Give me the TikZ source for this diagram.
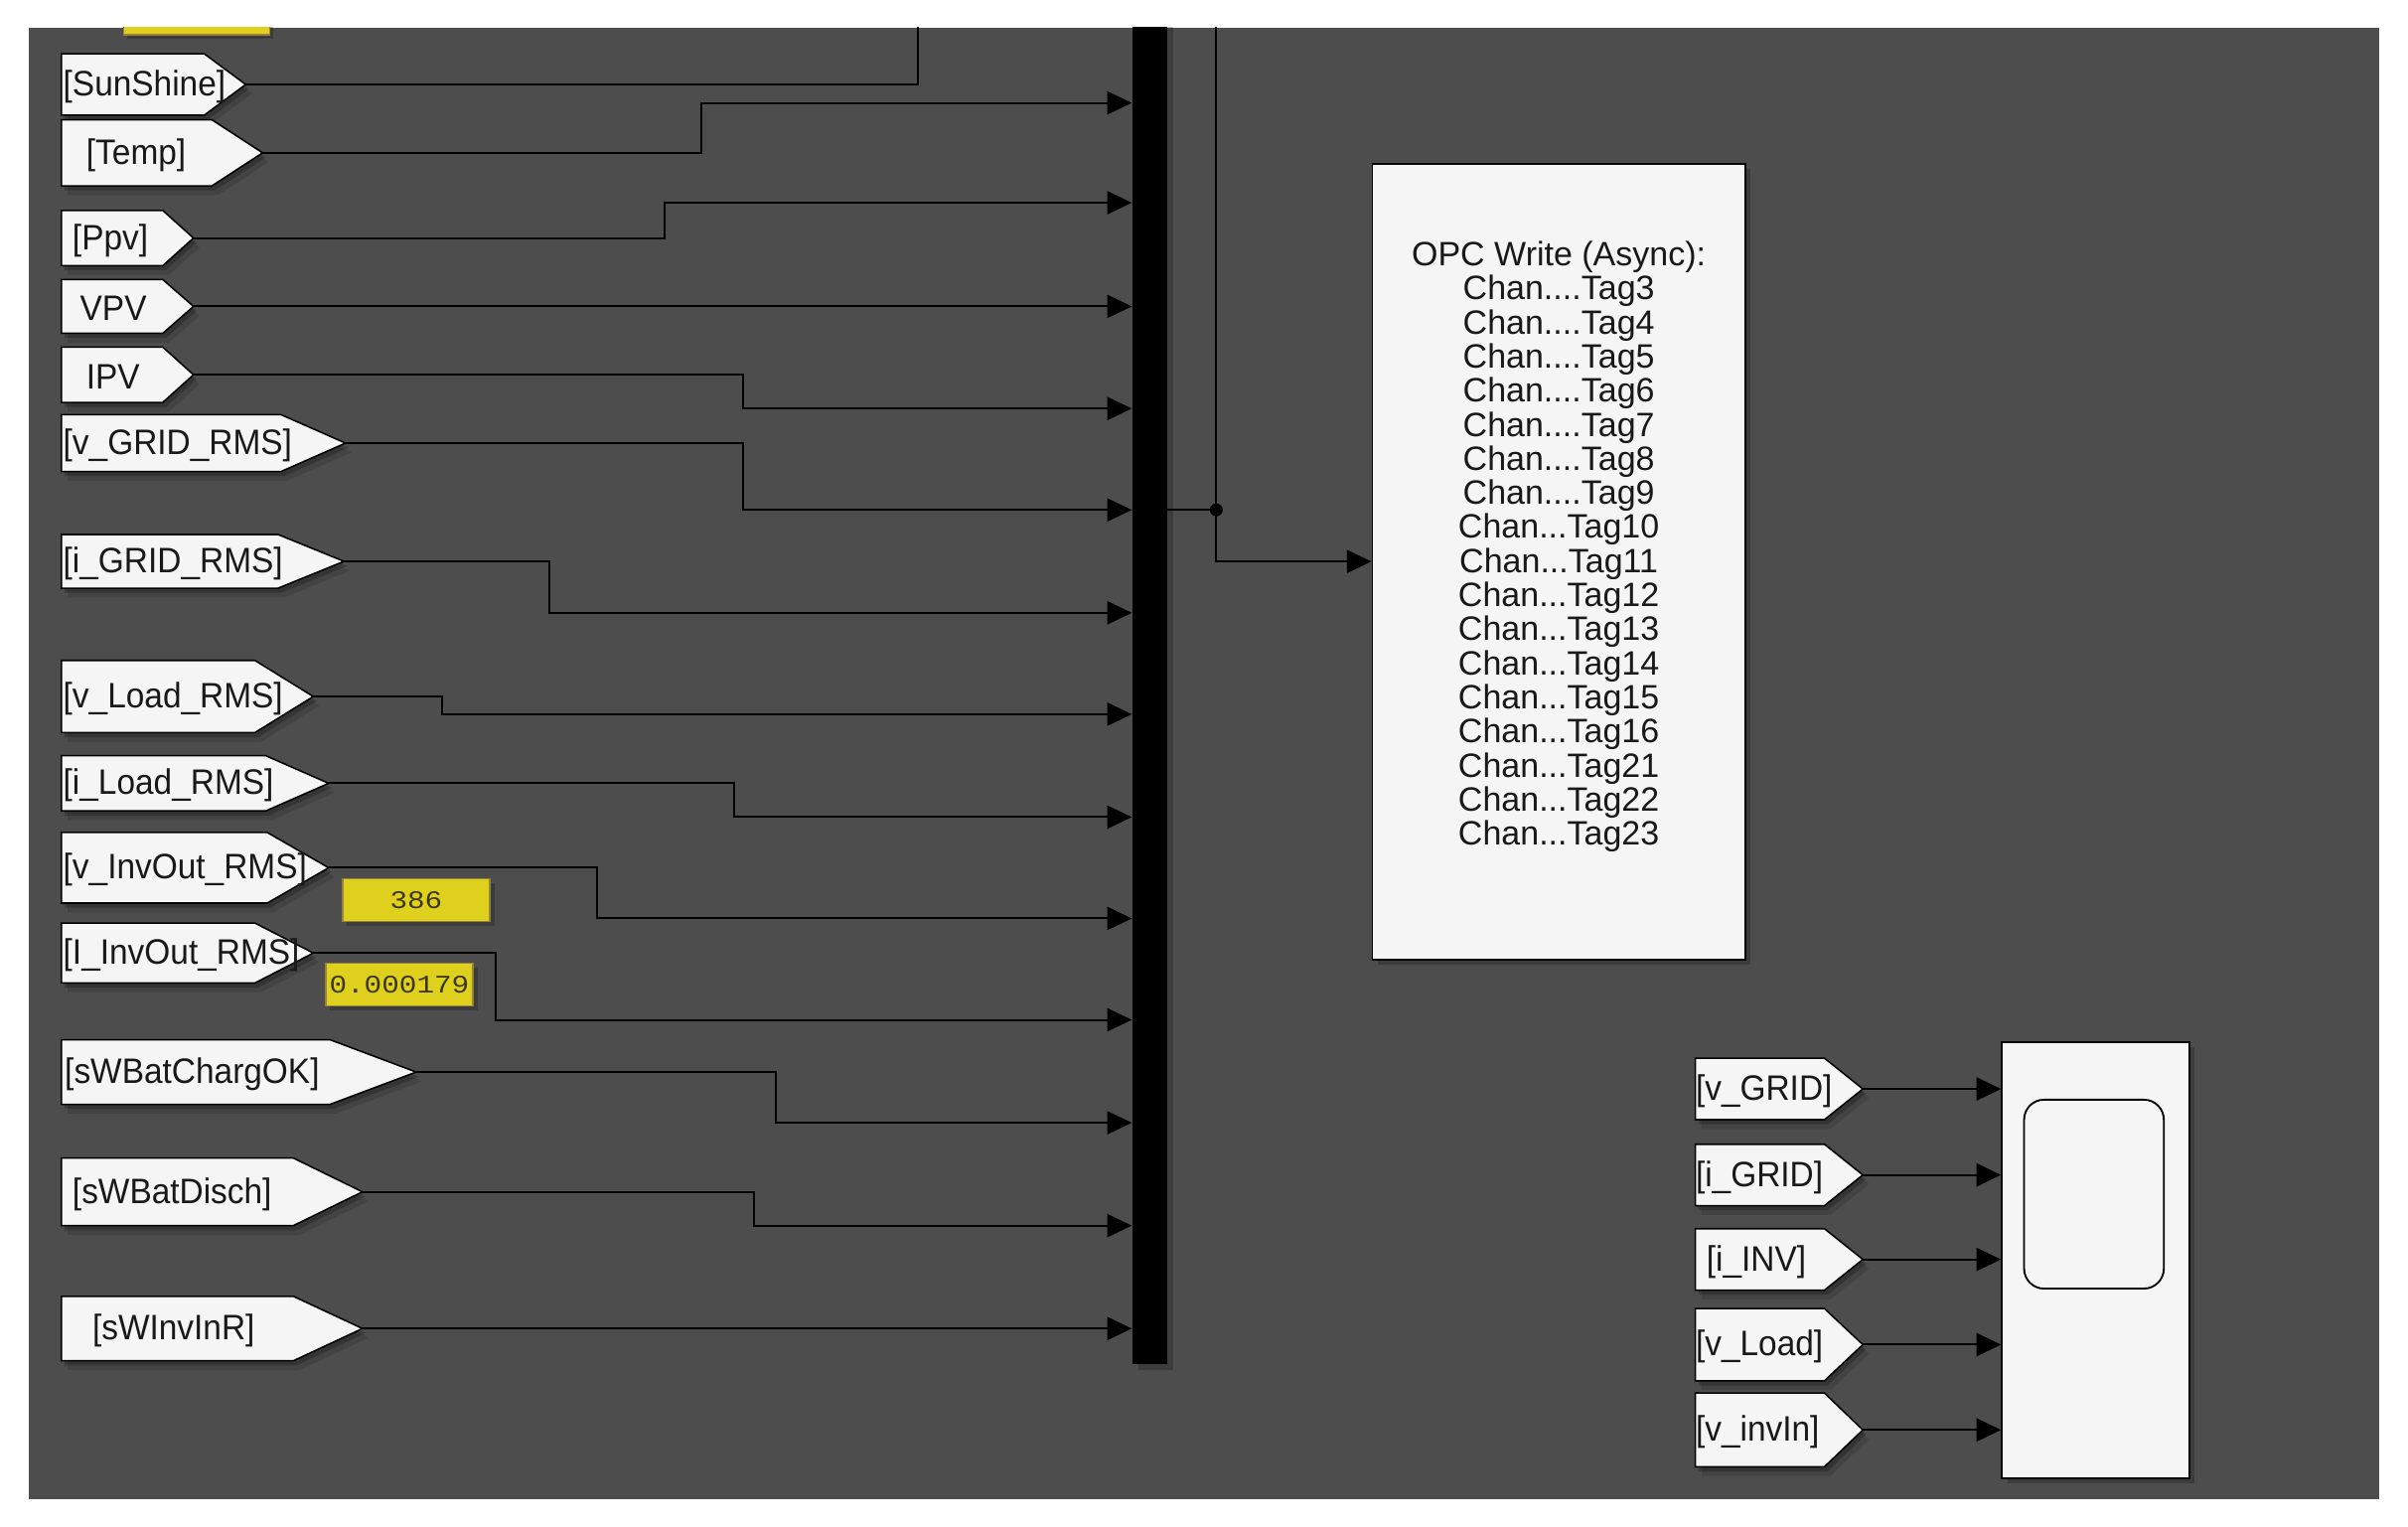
\documentclass[tikz,border=0pt]{standalone}
\usepackage{fontspec}
\setmainfont{Liberation Sans}
\newfontfamily\lblfamily[FakeStretch=0.94]{Liberation Sans}
\newfontfamily\dispfont[FakeStretch=1.15]{Liberation Mono}
\usetikzlibrary{arrows.meta,calc}
\definecolor{bgdark}{RGB}{77,77,77}
\definecolor{blockfill}{RGB}{245,245,245}
\definecolor{dispyel}{RGB}{224,208,30}
\definecolor{dispedge}{RGB}{150,132,60}
\definecolor{disptext}{RGB}{60,55,10}
\tikzset{
  sig/.style={line width=1.3pt, black, -{Triangle[length=16pt,width=15pt]}},
  wire/.style={line width=1.3pt, black},
  tagshape/.style={fill=blockfill, draw=black, line width=1pt},
  shadeA/.style={fill=black, opacity=0.22},
  shadeB/.style={fill=black, opacity=0.12},
  lbl/.style={font=\lblfamily\fontsize{23}{25}\selectfont, text=black!90, inner sep=0pt},
  blockbox/.style={fill=blockfill, draw=black, line width=1.2pt},
  dispbox/.style={fill=dispyel, draw=dispedge, line width=1pt},
  disptxt/.style={font=\dispfont\fontsize{16.5}{18}\selectfont, text=disptext, inner sep=0pt},
  opctext/.style={font=\fontsize{22}{22.2}\selectfont, text=black!90, align=center, inner sep=0pt},
}
% #1 name, #2 x0, #3 xflat, #4 xtip, #5 ytop, #6 ybot, #7 text x, #8 text
\newcommand{\tagblk}[8]{%
  \fill[shadeB] (#2+4,#5+6) -- (#3+4,#5+6) -- ({#4+4},{(#5+#6)/2+6}) -- (#3+4,#6+6) -- (#2+4,#6+6) -- cycle;
  \fill[shadeA] (#2+2,#5+3) -- (#3+2,#5+3) -- ({#4+2},{(#5+#6)/2+3}) -- (#3+2,#6+3) -- (#2+2,#6+3) -- cycle;
  \path[tagshape] (#2,#5) -- (#3,#5) -- (#4,{(#5+#6)/2}) -- (#3,#6) -- (#2,#6) -- cycle;
  \node[lbl,anchor=west] (#1-t) at (#7,{(#5+#6)/2+1.5}) {#8};
  \coordinate (#1) at (#4,{(#5+#6)/2});
}
\begin{document}
\begin{tikzpicture}[x=1pt,y=-1pt]
\useasboundingbox (0,0) rectangle (1568,994);
\fill[white] (0,0) rectangle (1568,994);
\fill[bgdark] (19,18) rectangle (1549,976);
\begin{scope}
\clip (19,18) rectangle (1549,976);

% partial display at the top
\fill[shadeA] (83,10) rectangle (178,25);
\node[dispbox, minimum width=95pt, minimum height=14pt, inner sep=0pt, anchor=north west] (topdisp) at (80,8) {};

% left tags
\tagblk{sun}{40}{133}{160}{35}{75}{41}{[SunShine]}
\tagblk{temp}{40}{138}{171}{78}{121}{56}{[Temp]}
\tagblk{ppv}{40}{106}{126}{137}{173}{47}{[Ppv]}
\tagblk{vpv}{40}{106}{126}{182}{217}{52}{VPV}
\tagblk{ipv}{40}{106}{126}{226}{262}{56}{IPV}
\tagblk{vgr}{40}{183}{225}{270}{307}{41}{[v\_GRID\_RMS]}
\tagblk{igr}{40}{181}{224}{348}{383}{41}{[i\_GRID\_RMS]}
\tagblk{vlr}{40}{166}{204}{430}{477}{41}{[v\_Load\_RMS]}
\tagblk{ilr}{40}{173}{214}{492}{528}{41}{[i\_Load\_RMS]}
\tagblk{vio}{40}{174}{214}{542}{588}{41}{[v\_InvOut\_RMS]}
\tagblk{iio}{40}{166}{204}{601}{640}{41}{[I\_InvOut\_RMS]}
\tagblk{bco}{40}{215}{271}{677}{719}{42}{[sWBatChargOK]}
\tagblk{bds}{40}{191}{236}{754}{798}{47}{[sWBatDisch]}
\tagblk{iir}{40}{191}{236}{844}{886}{60}{[sWInvInR]}

% displays
\fill[shadeA] (226,575) rectangle (322,603);
\node[dispbox, minimum width=96pt, minimum height=28pt, inner sep=0pt] (d386) at (271,586) {};
\node[disptxt] at (d386.center) {386};
\fill[shadeA] (215,630) rectangle (311,658);
\node[dispbox, minimum width=96pt, minimum height=28pt, inner sep=0pt] (d179) at (260,641) {};
\node[disptxt] at (d179.center) {0.000179};

% bus bar
\fill[shadeA] (741,10) rectangle (764,892);
\node[fill=black, minimum width=23pt, minimum height=878pt, inner sep=0pt, anchor=north west] (mux) at (737,10) {};

% bus inputs
\coordinate (in1) at (737,67);
\coordinate (in2) at (737,132);
\coordinate (in3) at (737,199.5);
\coordinate (in4) at (737,266);
\coordinate (in5) at (737,332);
\coordinate (in6) at (737,399);
\coordinate (in7) at (737,465);
\coordinate (in8) at (737,532);
\coordinate (in9) at (737,598);
\coordinate (in10) at (737,664);
\coordinate (in11) at (737,731);
\coordinate (in12) at (737,798);
\coordinate (in13) at (737,865);
\coordinate (suntop) at (598,5);

\draw[wire] (sun) -| (suntop);
\draw[sig] (temp) -| (457,67) -- (in1);
\draw[sig] (ppv) -| (433,132) -- (in2);
\draw[sig] (vpv) -- (in3);
\draw[sig] (ipv) -| (484,266) -- (in4);
\draw[sig] (vgr) -| (484,332) -- (in5);
\draw[sig] (igr) -| (358,399) -- (in6);
\draw[sig] (vlr) -| (288,465) -- (in7);
\draw[sig] (ilr) -| (478,532) -- (in8);
\draw[sig] (vio) -| (389,598) -- (in9);
\draw[sig] (iio) -| (323,664) -- (in10);
\draw[sig] (bco) -| (505,731) -- (in11);
\draw[sig] (bds) -| (491,798) -- (in12);
\draw[sig] (iir) -- (in13);

% OPC block
\fill[shadeA] (897,110) rectangle (1140,628);
\node[blockbox, minimum width=243pt, minimum height=518pt, inner sep=0pt, anchor=north west] (opc) at (893,106) {};
\node[opctext] (opct) at (1015,356) {OPC Write (Async):\\Chan....Tag3\\Chan....Tag4\\Chan....Tag5\\Chan....Tag6\\Chan....Tag7\\Chan....Tag8\\Chan....Tag9\\Chan...Tag10\\Chan...Tag11\\Chan...Tag12\\Chan...Tag13\\Chan...Tag14\\Chan...Tag15\\Chan...Tag16\\Chan...Tag21\\Chan...Tag22\\Chan...Tag23};

% bus output and branch
\coordinate (busout) at (760,332);
\coordinate (jn) at (792,332);
\coordinate (jtop) at (792,5);
\draw[wire] (busout) -- (jn);
\draw[wire] (jn) -- (jtop);
\fill (jn) circle (4.2pt);
\draw[sig] (jn) |- (opc.west);

% scope block
\fill[shadeA] (1307,682) rectangle (1429,966);
\node[blockbox, minimum width=122pt, minimum height=284pt, inner sep=0pt, anchor=north west] (scp) at (1303,678) {};
\draw[line width=1.2pt, rounded corners=13pt, fill=blockfill] (1318,716) rectangle (1409,839);

% right tags
\tagblk{vg}{1104}{1188}{1213}{689}{729}{1104}{[v\_GRID]}
\tagblk{ig}{1104}{1188}{1213}{745}{785}{1104}{[i\_GRID]}
\tagblk{ii}{1104}{1188}{1213}{800}{840}{1111}{[i\_INV]}
\tagblk{vl}{1104}{1188}{1213}{852}{899}{1104}{[v\_Load]}
\tagblk{vi}{1104}{1188}{1213}{907}{955}{1104}{[v\_invIn]}

\coordinate (s1) at (1303,709);
\coordinate (s2) at (1303,765);
\coordinate (s3) at (1303,820);
\coordinate (s4) at (1303,875.5);
\coordinate (s5) at (1303,931);
\draw[sig] (vg) -- (s1);
\draw[sig] (ig) -- (s2);
\draw[sig] (ii) -- (s3);
\draw[sig] (vl) -- (s4);
\draw[sig] (vi) -- (s5);
\end{scope}
\end{tikzpicture}
\end{document}
